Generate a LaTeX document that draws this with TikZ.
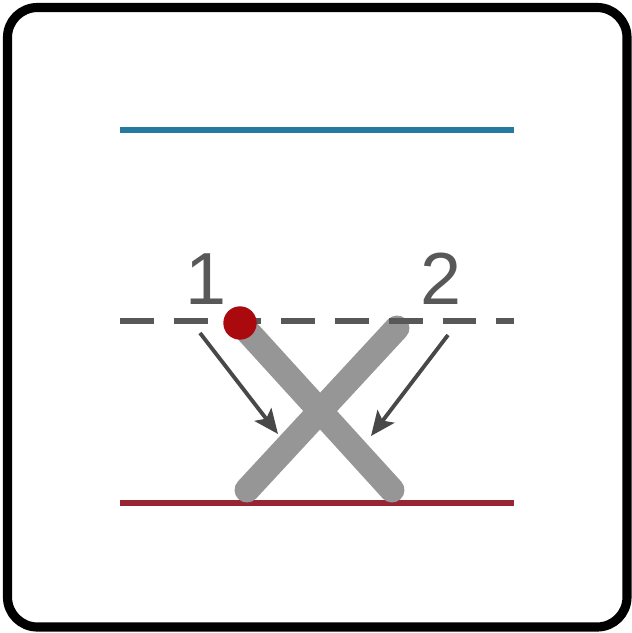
\documentclass[tikz,border=0pt]{standalone}
\usepackage{fontspec}
\setmainfont{Liberation Sans}
\usetikzlibrary{arrows.meta}
\definecolor{lineblue}{RGB}{38,122,160}
\definecolor{linered}{RGB}{150,38,52}
\definecolor{dotred}{RGB}{170,10,14}
\definecolor{stickgray}{RGB}{150,150,150}
\definecolor{dashgray}{RGB}{88,88,88}
\definecolor{arrowgray}{RGB}{72,72,72}
\begin{document}
\begin{tikzpicture}[
  x=0.02cm, y=-0.02cm,
  frame/.style={draw=black, line width=5.2pt, rounded corners=17pt},
  level/.style={line width=3.4pt},
  stick/.style={draw=stickgray, line width=14.2pt, line cap=round},
  pointer/.style={draw=arrowgray, line width=2.2pt, -{Stealth[length=14pt, width=12pt, inset=3pt]}},
  num/.style={text=dashgray, font=\fontsize{42}{42}\selectfont, inner sep=0pt}
]
\useasboundingbox (0,0) rectangle (632,633);
\draw[frame] (7.5,7.5) rectangle (627,627);

\coordinate (bl) at (120,130);
\coordinate (br) at (514,130);
\coordinate (dl) at (120,321);
\coordinate (dr) at (514,321);
\coordinate (rl) at (120,503);
\coordinate (rr) at (514,503);

\coordinate (s1a) at (240,323);
\coordinate (s1b) at (392,490);
\coordinate (s2a) at (397,328);
\coordinate (s2b) at (247,490);

\coordinate (p1a) at (200,333);
\coordinate (p1b) at (278,434);
\coordinate (p2a) at (448,335);
\coordinate (p2b) at (371,436);

\draw[level, lineblue] (bl) -- (br);
\draw[level, linered] (rl) -- (rr);

\draw[stick] (s1a) -- (s1b);
\draw[stick] (s2a) -- (s2b);

\draw[level, dashgray, line width=2.9pt, dash pattern=on 19.3pt off 11.3pt] (dl) -- (dr);

\node[circle, fill=dotred, minimum size=19pt, inner sep=0pt] (dot) at (s1a) {};

\node[num] (one) at (206,279) {1};
\node[num] (two) at (441,279) {2};

\draw[pointer] (p1a) -- (p1b);
\draw[pointer] (p2a) -- (p2b);
\end{tikzpicture}
\end{document}
